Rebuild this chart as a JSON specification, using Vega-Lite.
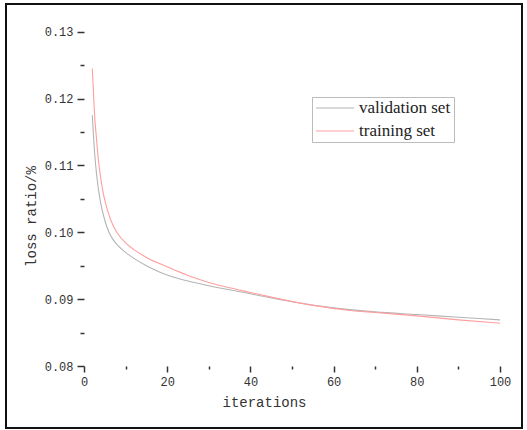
{
  "$schema": "https://vega.github.io/schema/vega-lite/v6.json",
  "width": 516,
  "height": 424,
  "autosize": "none",
  "padding": {"left": 6, "top": 4, "right": 5, "bottom": 2},
  "background": "white",
  "config": {
    "view": {"stroke": "#111", "strokeWidth": 2},
    "axis": {"grid": false, "domain": false, "labelFont": "Liberation Mono", "titleFont": "Liberation Mono", "labelColor": "#333", "titleColor": "#333", "tickColor": "#333", "tickWidth": 1.5, "labelFontSize": 12, "titleFontSize": 14, "titleFontWeight": "normal"}
  },
  "datasets": {
    "curves": [
      {"it": 2, "loss": 0.1175, "series": "validation set"},
      {"it": 2.5, "loss": 0.1123, "series": "validation set"},
      {"it": 3, "loss": 0.1088, "series": "validation set"},
      {"it": 3.5, "loss": 0.1063, "series": "validation set"},
      {"it": 4, "loss": 0.1044, "series": "validation set"},
      {"it": 5, "loss": 0.1018, "series": "validation set"},
      {"it": 6, "loss": 0.1000, "series": "validation set"},
      {"it": 7, "loss": 0.0989, "series": "validation set"},
      {"it": 8, "loss": 0.0981, "series": "validation set"},
      {"it": 10, "loss": 0.0970, "series": "validation set"},
      {"it": 12, "loss": 0.0961, "series": "validation set"},
      {"it": 15, "loss": 0.0950, "series": "validation set"},
      {"it": 18, "loss": 0.0941, "series": "validation set"},
      {"it": 20, "loss": 0.0936, "series": "validation set"},
      {"it": 25, "loss": 0.0927, "series": "validation set"},
      {"it": 30, "loss": 0.0920, "series": "validation set"},
      {"it": 35, "loss": 0.0914, "series": "validation set"},
      {"it": 40, "loss": 0.0908, "series": "validation set"},
      {"it": 50, "loss": 0.0896, "series": "validation set"},
      {"it": 60, "loss": 0.0887, "series": "validation set"},
      {"it": 70, "loss": 0.0881, "series": "validation set"},
      {"it": 80, "loss": 0.0877, "series": "validation set"},
      {"it": 90, "loss": 0.0873, "series": "validation set"},
      {"it": 100, "loss": 0.0869, "series": "validation set"},
      {"it": 2, "loss": 0.1245, "series": "training set"},
      {"it": 2.5, "loss": 0.1180, "series": "training set"},
      {"it": 3, "loss": 0.1140, "series": "training set"},
      {"it": 3.5, "loss": 0.1106, "series": "training set"},
      {"it": 4, "loss": 0.1082, "series": "training set"},
      {"it": 4.5, "loss": 0.1063, "series": "training set"},
      {"it": 5, "loss": 0.1048, "series": "training set"},
      {"it": 6, "loss": 0.1026, "series": "training set"},
      {"it": 7, "loss": 0.1010, "series": "training set"},
      {"it": 8, "loss": 0.0999, "series": "training set"},
      {"it": 10, "loss": 0.0984, "series": "training set"},
      {"it": 12, "loss": 0.0974, "series": "training set"},
      {"it": 14, "loss": 0.0966, "series": "training set"},
      {"it": 16, "loss": 0.0959, "series": "training set"},
      {"it": 19, "loss": 0.0951, "series": "training set"},
      {"it": 22, "loss": 0.0943, "series": "training set"},
      {"it": 26, "loss": 0.0933, "series": "training set"},
      {"it": 30, "loss": 0.0925, "series": "training set"},
      {"it": 35, "loss": 0.0917, "series": "training set"},
      {"it": 40, "loss": 0.0910, "series": "training set"},
      {"it": 45, "loss": 0.0903, "series": "training set"},
      {"it": 52, "loss": 0.0894, "series": "training set"},
      {"it": 58, "loss": 0.0888, "series": "training set"},
      {"it": 64, "loss": 0.0883, "series": "training set"},
      {"it": 70, "loss": 0.0880, "series": "training set"},
      {"it": 80, "loss": 0.0875, "series": "training set"},
      {"it": 90, "loss": 0.0869, "series": "training set"},
      {"it": 100, "loss": 0.0864, "series": "training set"}
    ]
  },
  "layer": [
    {
      "data": {"name": "curves"},
      "mark": {"type": "line", "strokeWidth": 1.1, "interpolate": "monotone"},
      "encoding": {
        "x": {
          "field": "it", "type": "quantitative",
          "scale": {"domain": [-18.75, 105.29], "nice": false, "zero": false},
          "axis": {
            "orient": "bottom", "offset": -62, "title": "iterations", "titlePadding": 8,
            "values": [0, 10, 20, 30, 40, 50, 60, 70, 80, 90, 100],
            "labelExpr": "datum.value % 20 === 0 ? datum.label : ''",
            "tickSize": {"condition": {"test": "datum.value % 20 === 0", "value": 6}, "value": 3},
            "labelPadding": 4
          }
        },
        "y": {
          "field": "loss", "type": "quantitative",
          "scale": {"domain": [0.070727, 0.134143], "nice": false, "zero": false},
          "axis": {
            "orient": "left", "offset": -78, "title": "loss ratio/%", "titlePadding": 6,
            "values": [0.08, 0.085, 0.09, 0.095, 0.10, 0.105, 0.11, 0.115, 0.12, 0.125, 0.13],
            "labelExpr": "abs(datum.value * 100 - round(datum.value * 100)) < 0.01 ? format(datum.value, '.2f') : ''",
            "tickSize": {"condition": {"test": "abs(datum.value * 100 - round(datum.value * 100)) < 0.01", "value": 7}, "value": 4},
            "labelPadding": 4
          }
        },
        "color": {
          "field": "series", "type": "nominal",
          "scale": {"domain": ["validation set", "training set"], "range": ["#b4b4b4", "#ff9e9e"]},
          "legend": {
            "title": null, "orient": "none", "legendX": 306, "legendY": 93,
            "symbolType": "stroke", "symbolSize": 1444, "symbolStrokeWidth": 1.2,
            "clipHeight": 16, "labelOffset": 4,
            "labelFont": "Liberation Serif", "labelFontSize": 17, "labelColor": "#222",
            "strokeColor": "#bbb", "fillColor": "white", "padding": 3, "rowPadding": 6
          }
        }
      }
    },
    {
      "mark": {"type": "rule", "color": "#333", "strokeWidth": 1.8},
      "encoding": {"x": {"datum": 0, "type": "quantitative"}, "x2": {"datum": 100}, "y": {"datum": 0.08, "type": "quantitative"}}
    },
    {
      "mark": {"type": "rule", "color": "#333", "strokeWidth": 1.8},
      "encoding": {"x": {"datum": 0, "type": "quantitative"}, "y": {"datum": 0.08, "type": "quantitative"}, "y2": {"datum": 0.13}}
    }
  ]
}
